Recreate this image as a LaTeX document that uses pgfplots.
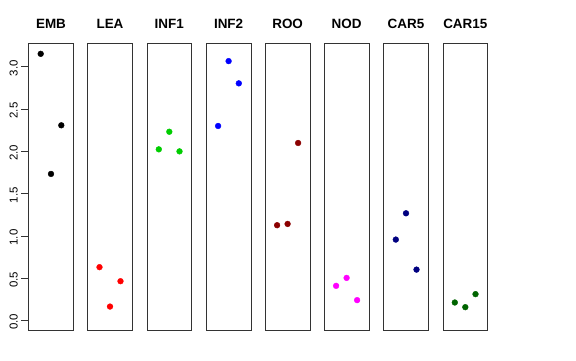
\documentclass[border=0pt]{standalone}
\usepackage{pgfplots}
\pgfplotsset{compat=1.18}
\usepackage{fontspec}
\setmainfont{Liberation Sans}
\definecolor{rgreen}{RGB}{0,205,0}
\definecolor{rdarkred}{RGB}{139,0,0}
\definecolor{rnavy}{RGB}{0,0,128}
\definecolor{rdarkgreen}{RGB}{0,100,0}
\definecolor{rmagenta}{RGB}{255,0,255}
\pgfplotsset{
  P/.style={
    scale only axis, width=44.6bp, height=287.4bp, anchor=south west,
    xmin=-22.3, xmax=22.3, ymin=-0.118, ymax=3.28,
    xtick=\empty, ytick=\empty,
    axis line style={black!80, line width=0.8bp},
    title style={at={(0.5,1)}, anchor=base, yshift=9bp, font=\fontsize{13.5}{13.5}\selectfont\bfseries},
    clip=false,
  },
  M/.style={only marks, mark=*, mark size=2.9bp, mark options={draw=#1, fill=#1}, color=#1},
}
\begin{document}
\begin{tikzpicture}[x=1bp,y=1bp]
\path (0,0) rectangle (576,360);
\begin{axis}[P, at={(28.7bp,29.5bp)}, title={\textbf{EMB}},
  ytick={0,0.5,...,3}, ytick pos=left, tick align=outside, major tick length=7.5bp,
  tick style={black!80, line width=0.8bp},
  /pgf/number format/assume math mode=true,
  yticklabel={\pgfmathprintnumber[fixed,fixed zerofill,precision=1]{\tick}},
  yticklabel style={rotate=90, anchor=south, font=\fontsize{11.5}{11.5}\selectfont, xshift=-1.5bp}]
\addplot[M=black] coordinates {(-10.3,3.153) (10.3,2.308) (0,1.733)};
\end{axis}
\begin{axis}[P, at={(87.7bp,29.5bp)}, title={\textbf{LEA}}]
\addplot[M=red] coordinates {(-10.5,0.631) (10.5,0.465) (0,0.165)};
\end{axis}
\begin{axis}[P, at={(147bp,29.5bp)}, title={\textbf{INF1}}]
\addplot[M=rgreen] coordinates {(0,2.232) (-10.5,2.024) (10.2,2.0)};
\end{axis}
\begin{axis}[P, at={(206.3bp,29.5bp)}, title={\textbf{INF2}}]
\addplot[M=blue] coordinates {(0,3.067) (10.2,2.804) (-10.5,2.30)};
\end{axis}
\begin{axis}[P, at={(265.3bp,29.5bp)}, title={\textbf{ROO}}]
\addplot[M=rdarkred] coordinates {(10.5,2.099) (0,1.142) (-10.5,1.127)};
\end{axis}
\begin{axis}[P, at={(324.3bp,29.5bp)}, title={\textbf{NOD}}]
\addplot[M=rmagenta] coordinates {(0,0.504) (-10.5,0.410) (10.5,0.241)};
\end{axis}
\begin{axis}[P, at={(383.7bp,29.5bp)}, title={\textbf{CAR5}}]
\addplot[M=rnavy] coordinates {(0,1.268) (-10.2,0.957) (10.5,0.602)};
\end{axis}
\begin{axis}[P, at={(443bp,29.5bp)}, title={\textbf{CAR15}}]
\addplot[M=rdarkgreen] coordinates {(10.2,0.312) (-10.5,0.213) (0,0.158)};
\end{axis}
\end{tikzpicture}
\end{document}
